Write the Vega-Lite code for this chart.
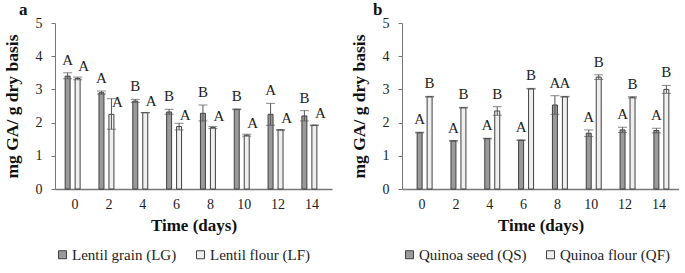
{
  "$schema": "https://vega.github.io/schema/vega-lite/v6.json",
  "padding": {"left": 3, "top": 1, "right": 0, "bottom": 0},
  "background": "white",
  "config": {
    "font": "Liberation Serif",
    "view": {"stroke": null},
    "axis": {"labelFont": "Liberation Serif", "titleFont": "Liberation Serif", "labelColor": "#222", "titleColor": "#111", "domainColor": "#777", "tickColor": "#777", "grid": false},
    "axisY": {"title": "mg GA/ g dry basis", "values": [0, 0.5, 1, 1.5, 2, 2.5, 3, 3.5, 4, 4.5, 5], "labelExpr": "(datum.value == 0 || datum.value == 1 || datum.value == 2 || datum.value == 3 || datum.value == 4 || datum.value == 5) ? format(datum.value, 'd') : ''", "labelOverlap": false, "labelBound": false, "labelFontSize": 14, "titleFontSize": 17.5, "titleFontWeight": "bold", "tickSize": 4, "labelPadding": 9, "titlePadding": 14},
    "legend": {"labelFont": "Liberation Serif", "labelFontSize": 15, "labelColor": "#222", "orient": "bottom", "direction": "horizontal", "title": null, "symbolType": "square", "symbolSize": 64, "symbolStrokeWidth": 1, "columnPadding": 16, "labelOffset": 2, "offset": 14},
    "title": {"font": "Liberation Serif", "fontSize": 17, "fontWeight": "bold", "anchor": "start", "color": "#111", "offset": -3}
  },
  "resolve": {"scale": {"fill": "independent"}, "legend": {"fill": "independent"}},
  "spacing": 18,
  "hconcat": [
    {
      "title": {"text": "a", "dx": 16},
      "width": 277,
      "height": 166,
      "data": {"values": [
        {"day": 0, "series": "Lentil grain (LG)", "value": 3.40, "lo": 3.32, "hi": 3.50, "letter": "A"},
        {"day": 0, "series": "Lentil flour (LF)", "value": 3.33, "lo": 3.29, "hi": 3.37, "letter": "A"},
        {"day": 2, "series": "Lentil grain (LG)", "value": 2.90, "lo": 2.86, "hi": 2.95, "letter": "A"},
        {"day": 2, "series": "Lentil flour (LF)", "value": 2.25, "lo": 1.80, "hi": 2.72, "letter": "A"},
        {"day": 4, "series": "Lentil grain (LG)", "value": 2.65, "lo": 2.61, "hi": 2.70, "letter": "B"},
        {"day": 4, "series": "Lentil flour (LF)", "value": 2.30, "lo": 2.30, "hi": 2.30, "letter": "A"},
        {"day": 6, "series": "Lentil grain (LG)", "value": 2.32, "lo": 2.25, "hi": 2.40, "letter": "B"},
        {"day": 6, "series": "Lentil flour (LF)", "value": 1.88, "lo": 1.78, "hi": 1.98, "letter": "A"},
        {"day": 8, "series": "Lentil grain (LG)", "value": 2.28, "lo": 2.05, "hi": 2.53, "letter": "B"},
        {"day": 8, "series": "Lentil flour (LF)", "value": 1.85, "lo": 1.82, "hi": 1.88, "letter": "A"},
        {"day": 10, "series": "Lentil grain (LG)", "value": 2.40, "lo": 2.39, "hi": 2.41, "letter": "B"},
        {"day": 10, "series": "Lentil flour (LF)", "value": 1.62, "lo": 1.59, "hi": 1.65, "letter": "A"},
        {"day": 12, "series": "Lentil grain (LG)", "value": 2.25, "lo": 1.92, "hi": 2.58, "letter": "A"},
        {"day": 12, "series": "Lentil flour (LF)", "value": 1.78, "lo": 1.77, "hi": 1.79, "letter": "A"},
        {"day": 14, "series": "Lentil grain (LG)", "value": 2.20, "lo": 2.05, "hi": 2.36, "letter": "B"},
        {"day": 14, "series": "Lentil flour (LF)", "value": 1.92, "lo": 1.91, "hi": 1.93, "letter": "A"}
      ]},
      "encoding": {
        "x": {"field": "day", "type": "ordinal", "scale": {"paddingInner": 0.41, "paddingOuter": 0.3},
              "axis": {"title": "Time (days)", "labelAngle": 0, "labelFontSize": 14, "titleFontSize": 17, "titleFontWeight": "bold", "ticks": false, "labelPadding": 8, "titlePadding": 6, "domainWidth": 1.5}},
        "xOffset": {"field": "series", "type": "nominal", "sort": ["Lentil grain (LG)", "Lentil flour (LF)"]}
      },
      "layer": [
        {
          "mark": {"type": "bar", "stroke": "#404040", "strokeWidth": 1},
          "encoding": {
            "y": {"field": "value", "type": "quantitative", "scale": {"domain": [0, 5]}, "title": "mg GA/ g dry basis"},
            "fill": {"field": "series", "type": "nominal", "sort": ["Lentil grain (LG)", "Lentil flour (LF)"],
                     "scale": {"range": ["#9a9a9a", "#efefef"]},
                     "legend": {"symbolStrokeColor": "#404040"}}
          }
        },
        {
          "mark": {"type": "rule", "stroke": "#555", "strokeWidth": 1},
          "encoding": {"y": {"field": "lo", "type": "quantitative", "title": "mg GA/ g dry basis"}, "y2": {"field": "hi"}}
        },
        {
          "mark": {"type": "tick", "color": "#555", "thickness": 1, "size": 9},
          "encoding": {"y": {"field": "hi", "type": "quantitative", "title": "mg GA/ g dry basis"}}
        },
        {
          "mark": {"type": "tick", "color": "#555", "thickness": 1, "size": 9},
          "encoding": {"y": {"field": "lo", "type": "quantitative", "title": "mg GA/ g dry basis"}}
        },
        {
          "transform": [{"filter": "datum.series === 'Lentil grain (LG)'"}],
          "mark": {"type": "text", "fontSize": 15, "dy": -13, "color": "#222"},
          "encoding": {"y": {"field": "hi", "type": "quantitative", "title": "mg GA/ g dry basis"}, "text": {"field": "letter"}}
        },
        {
          "transform": [{"filter": "datum.series === 'Lentil flour (LF)'"}],
          "mark": {"type": "text", "fontSize": 15, "dy": -12, "dx": 6, "color": "#222"},
          "encoding": {"y": {"field": "value", "type": "quantitative", "title": "mg GA/ g dry basis"}, "text": {"field": "letter"}}
        }
      ]
    },
    {
      "title": {"text": "b", "dx": 23},
      "width": 277,
      "height": 166,
      "data": {"values": [
        {"day": 0, "series": "Quinoa seed (QS)", "value": 1.70, "lo": 1.69, "hi": 1.71, "letter": "A"},
        {"day": 0, "series": "Quinoa flour (QF)", "value": 2.78, "lo": 2.77, "hi": 2.79, "letter": "B"},
        {"day": 2, "series": "Quinoa seed (QS)", "value": 1.45, "lo": 1.44, "hi": 1.46, "letter": "A"},
        {"day": 2, "series": "Quinoa flour (QF)", "value": 2.45, "lo": 2.44, "hi": 2.46, "letter": "B"},
        {"day": 4, "series": "Quinoa seed (QS)", "value": 1.52, "lo": 1.51, "hi": 1.53, "letter": "A"},
        {"day": 4, "series": "Quinoa flour (QF)", "value": 2.35, "lo": 2.22, "hi": 2.48, "letter": "B"},
        {"day": 6, "series": "Quinoa seed (QS)", "value": 1.47, "lo": 1.46, "hi": 1.48, "letter": "A"},
        {"day": 6, "series": "Quinoa flour (QF)", "value": 3.02, "lo": 3.01, "hi": 3.03, "letter": "B"},
        {"day": 8, "series": "Quinoa seed (QS)", "value": 2.53, "lo": 2.25, "hi": 2.81, "letter": "A"},
        {"day": 8, "series": "Quinoa flour (QF)", "value": 2.78, "lo": 2.77, "hi": 2.79, "letter": "A"},
        {"day": 10, "series": "Quinoa seed (QS)", "value": 1.68, "lo": 1.58, "hi": 1.78, "letter": "A"},
        {"day": 10, "series": "Quinoa flour (QF)", "value": 3.37, "lo": 3.30, "hi": 3.44, "letter": "B"},
        {"day": 12, "series": "Quinoa seed (QS)", "value": 1.78, "lo": 1.70, "hi": 1.86, "letter": "A"},
        {"day": 12, "series": "Quinoa flour (QF)", "value": 2.76, "lo": 2.74, "hi": 2.78, "letter": "B"},
        {"day": 14, "series": "Quinoa seed (QS)", "value": 1.76, "lo": 1.69, "hi": 1.83, "letter": "A"},
        {"day": 14, "series": "Quinoa flour (QF)", "value": 3.00, "lo": 2.88, "hi": 3.12, "letter": "B"}
      ]},
      "encoding": {
        "x": {"field": "day", "type": "ordinal", "scale": {"paddingInner": 0.41, "paddingOuter": 0.3},
              "axis": {"title": "Time (days)", "labelAngle": 0, "labelFontSize": 14, "titleFontSize": 17, "titleFontWeight": "bold", "ticks": false, "labelPadding": 8, "titlePadding": 6, "domainWidth": 1.5}},
        "xOffset": {"field": "series", "type": "nominal", "sort": ["Quinoa seed (QS)", "Quinoa flour (QF)"]}
      },
      "layer": [
        {
          "mark": {"type": "bar", "stroke": "#404040", "strokeWidth": 1},
          "encoding": {
            "y": {"field": "value", "type": "quantitative", "scale": {"domain": [0, 5]}, "title": "mg GA/ g dry basis"},
            "fill": {"field": "series", "type": "nominal", "sort": ["Quinoa seed (QS)", "Quinoa flour (QF)"],
                     "scale": {"range": ["#9a9a9a", "#efefef"]},
                     "legend": {"symbolStrokeColor": "#404040"}}
          }
        },
        {
          "mark": {"type": "rule", "stroke": "#555", "strokeWidth": 1},
          "encoding": {"y": {"field": "lo", "type": "quantitative", "title": "mg GA/ g dry basis"}, "y2": {"field": "hi"}}
        },
        {
          "mark": {"type": "tick", "color": "#555", "thickness": 1, "size": 9},
          "encoding": {"y": {"field": "hi", "type": "quantitative", "title": "mg GA/ g dry basis"}}
        },
        {
          "mark": {"type": "tick", "color": "#555", "thickness": 1, "size": 9},
          "encoding": {"y": {"field": "lo", "type": "quantitative", "title": "mg GA/ g dry basis"}}
        },
        {
          "mark": {"type": "text", "fontSize": 15, "dy": -13, "color": "#222"},
          "encoding": {"y": {"field": "hi", "type": "quantitative", "title": "mg GA/ g dry basis"}, "text": {"field": "letter"}}
        }
      ]
    }
  ]
}
